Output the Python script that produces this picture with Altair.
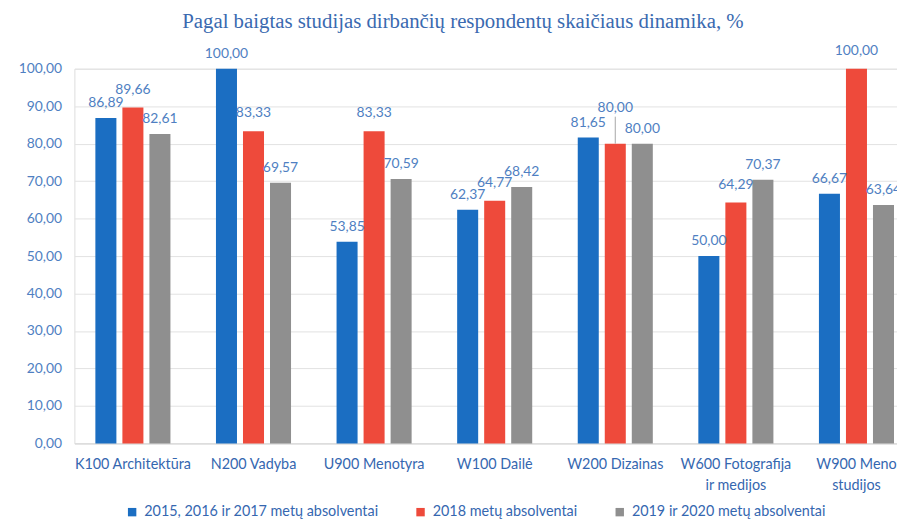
import altair as alt
import pandas as pd

categories = [
    "K100 Architektūra",
    "N200 Vadyba",
    "U900 Menotyra",
    "W100 Dailė",
    "W200 Dizainas",
    "W600 Fotografija\nir medijos",
    "W900 Meno\nstudijos",
]
series = [
    "2015, 2016 ir 2017 metų absolventai",
    "2018 metų absolventai",
    "2019 ir 2020 metų absolventai",
]
values_2015_2017 = [86.89, 100.00, 53.85, 62.37, 81.65, 50.00, 66.67]
values_2018 = [89.66, 83.33, 83.33, 64.77, 80.00, 64.29, 100.00]
values_2019_2020 = [82.61, 69.57, 70.59, 68.42, 80.00, 70.37, 63.64]
y_ticks = [0, 10, 20, 30, 40, 50, 60, 70, 80, 90, 100]
colors = ["#1b6ec2", "#ee4a3b", "#8f8f8f"]
title_text = "Pagal baigtas studijas dirbančių respondentų skaičiaus dinamika, %"

# Red (middle) labels that sit too close to a neighbour's label are lifted
# and tied to their bar with a short leader line.
CROWD_LIMIT = 2.0
LIFT = 4.7
LEADER = 7.2

all_values = [values_2015_2017, values_2018, values_2019_2020]
rows = []
for si, (s, vals) in enumerate(zip(series, all_values)):
    for ci, (c, v) in enumerate(zip(categories, vals)):
        crowded = False
        if si == 1:
            gap = min(abs(v - values_2015_2017[ci]), abs(v - values_2019_2020[ci]))
            crowded = gap < CROWD_LIMIT
        rows.append({
            "category": c,
            "series": s,
            "value": v,
            "crowded": crowded,
            "label_y": v + (LIFT if crowded else 0.0),
            "leader_top": v + (LEADER if crowded else 0.0),
        })
df = pd.DataFrame(rows)

FONT = "Lato"
comma_fmt = "replace(format(datum.value, '.2f'), '.', ',')"
label_fmt = "replace(format(datum.value, '.2f'), '.', ',')"

y_scale = alt.Scale(domain=[0, 100])
y_axis = alt.Axis(
    values=y_ticks,
    labelExpr=comma_fmt,
    labelOverlap=False,
    title=None,
    domain=False,
    ticks=False,
    gridColor="#e2e2e2",
    gridWidth=1,
    labelPadding=13,
    labelFont=FONT,
    labelFontSize=14,
    labelColor="#4f7fc2",
)

base = alt.Chart(df).transform_calculate(
    label=label_fmt
).encode(
    x=alt.X(
        "category:N",
        sort=categories,
        scale=alt.Scale(paddingInner=0.3278, paddingOuter=0.0745, align=1),
        axis=alt.Axis(
            title=None,
            labelExpr="split(datum.label, '\\n')",
            labelAngle=0,
            labelFont=FONT,
            labelFontSize=14.5,
            labelColor="#3567b0",
            labelPadding=14,
            labelLineHeight=22,
            labelLimit=300,
            ticks=False,
            domainColor="#d9d9d9",
            domainWidth=1,
        ),
    ),
    xOffset=alt.XOffset(
        "series:N",
        sort=series,
        scale=alt.Scale(paddingInner=0.222, paddingOuter=0.111),
    ),
)

bars = base.mark_bar().encode(
    y=alt.Y("value:Q", scale=y_scale, axis=y_axis),
    color=alt.Color(
        "series:N",
        sort=series,
        scale=alt.Scale(domain=series, range=colors),
        legend=alt.Legend(
            title=None,
            orient="none",
            direction="horizontal",
            columns=3,
            legendX=51,
            legendY=440,
            symbolType="square",
            symbolSize=72,
            symbolStrokeWidth=0,
            labelFont=FONT,
            labelFontSize=14.5,
            labelColor="#3567b0",
            labelOffset=5,
            columnPadding=35,
            labelLimit=400,
        ),
    ),
)

label_color = "#4f7fc2"
text_other = base.transform_filter(
    alt.datum.series != series[1]
).mark_text(
    dy=-15, baseline="middle", align="center", font=FONT, fontSize=14, color=label_color
).encode(y=alt.Y("label_y:Q", scale=y_scale, axis=y_axis), text="label:N")

text_red = base.transform_filter(
    alt.datum.series == series[1]
).mark_text(
    dy=-18, baseline="middle", align="center", font=FONT, fontSize=14, color=label_color
).encode(y=alt.Y("label_y:Q", scale=y_scale, axis=y_axis), text="label:N")

leaders = base.transform_filter(
    alt.datum.crowded
).mark_rule(color="#a6a6a6", strokeWidth=1).encode(
    y=alt.Y("value:Q", scale=y_scale, axis=y_axis),
    y2="leader_top:Q",
)

chart = alt.layer(bars, leaders, text_other, text_red).properties(
    width=830,
    height=378,
    autosize=alt.AutoSizeParams(type="none"),
    padding={"left": 67, "top": 59, "right": 0, "bottom": 76},
    title=alt.Title(
        title_text,
        font="Liberation Serif",
        fontSize=21,
        fontWeight="normal",
        color="#3a6ab0",
        anchor="middle",
        frame="group",
        offset=12,
        dx=-23,
    ),
).configure_view(stroke=None).configure(background="white")

chart.save("out.html", embed_options={"renderer": "svg", "actions": False})
